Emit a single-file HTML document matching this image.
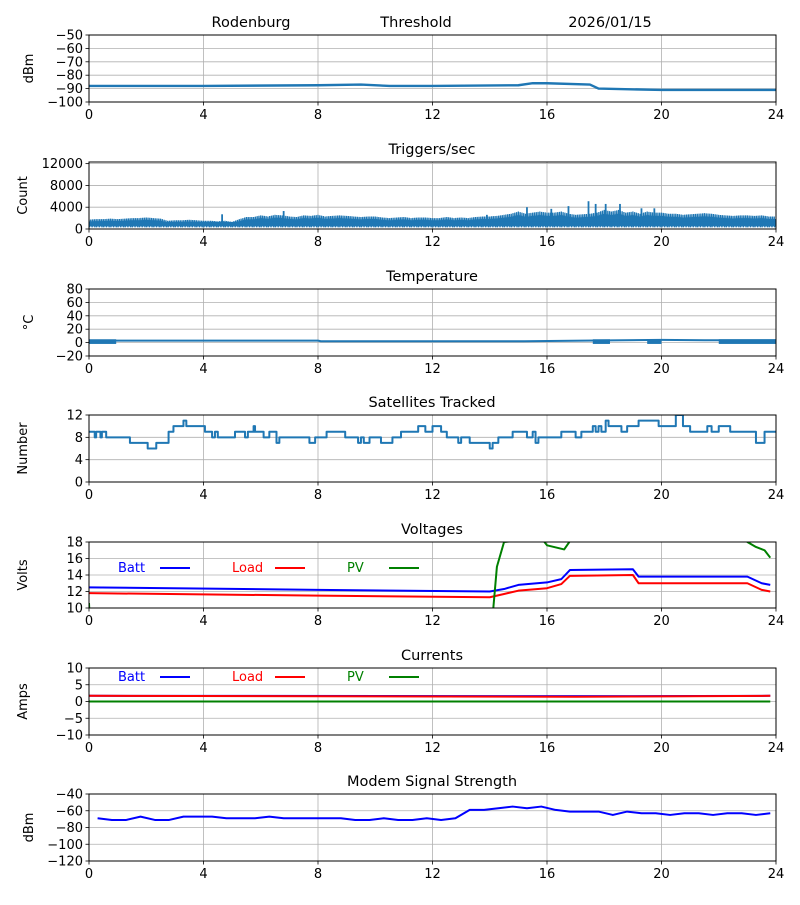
<!DOCTYPE html>
<html><head><meta charset="utf-8"><style>
body{margin:0;background:#fff;width:800px;height:900px;overflow:hidden}
svg{font-family:"DejaVu Sans","Liberation Sans",sans-serif}
</style></head><body>
<svg id="c" width="800" height="900" xmlns="http://www.w3.org/2000/svg"></svg>
<script>
const hourTicks=[0,4,8,12,16,20,24];
const rssiT=[0,4,8,9.5,10.5,12,15,15.5,16,17.5,17.8,20,24];
const rssiV=[-88,-88,-87.5,-87,-88,-88,-87.5,-86,-86,-87,-90,-91,-91];
const trigHigh=[1700,1800,1800,1900,1800,1900,2000,2000,2100,2000,1900,
1500,1600,1600,1700,1600,1500,1500,1400,
1500,1300,1800,2200,2200,2500,
2300,2600,2500,2300,2200,2500,2400,2600,
2300,2400,2500,2400,2300,2200,2300,2300,
2100,2000,2100,2200,2000,2100,2100,2000,
2000,2200,2000,2100,2000,2200,2300,2300,
2400,2600,2800,3200,2800,3000,3200,3000,
3000,3200,2800,2600,2700,2800,3000,3500,
3200,3500,3000,3200,2800,3200,3000,3000,
2800,2800,2600,2700,2800,2900,2800,2600,
2500,2400,2500,2500,2400,2500,2300,2300];
const trigLow=[500];
const trigSpikeT=[4.65,6.8,13.9,15.3,16.15,16.75,17.45,17.7,18.05,18.55,19.3,19.75];
const trigSpikeV=[2700,3300,2600,4000,3700,4200,5100,4600,4600,4600,3800,3800];
const tempT=[0.9,8,8.1,15.2,17.3,20,21.5,24];
const tempV=[3,3,2,2,3,4,3.5,3.5];
const tempNoiseStart=[0,17.6,19.5,22];
const tempNoiseEnd=[0.95,18.2,20,24];
const satT=[0,0.2,0.25,0.4,0.45,0.6,0.65,1.43,2.05,2.35,2.78,2.95,3.3,3.4,4.05,4.3,4.4,4.5,5.1,5.45,5.55,5.75,5.8,6.1,6.3,6.55,6.65,7.7,7.9,8.3,8.95,9.4,9.5,9.6,9.8,10.2,10.6,10.9,11.5,11.75,12,12.3,12.5,12.9,13.0,13.3,14.0,14.1,14.3,14.8,15.3,15.5,15.6,15.7,16.5,17.0,17.2,17.6,17.7,17.8,17.9,18.05,18.15,18.6,18.8,19.2,19.9,20.5,20.75,21.0,21.6,21.75,22.0,22.4,23.3,23.6,24];
const satV=[9,8,9,8,9,8,8,7,6,7,9,10,11,10,9,8,9,8,9,8,9,10,9,8,9,7,8,7,8,9,8,7,8,7,8,7,8,9,10,9,10,9,8,7,8,7,6,7,8,9,8,9,7,8,9,8,9,10,9,10,9,11,10,9,10,11,10,12,10,9,10,9,10,9,7,9,9];
const voltT=[0,8,14,14.5,15,16,16.5,16.8,19,19.2,23,23.5,23.8];
const battV=[12.5,12.2,12.0,12.3,12.8,13.1,13.5,14.6,14.7,13.8,13.8,13.0,12.8];
const loadV=[11.8,11.5,11.3,11.7,12.1,12.4,12.9,13.9,14.0,13.0,13.0,12.2,12.0];
const pvT=[0,0.02,14.1,14.25,14.5,15.8,16,16.6,16.8,17.2,22.8,23,23.3,23.6,23.8];
const pvV=[10.6,9,9,15,18,18.5,17.6,17.1,18.1,21,21,18,17.4,17.0,16.1];
const curT=[0,17,19,23.8];
const battA=[1.7,1.6,1.6,1.7];
const loadA=[1.7,1.4,1.5,1.7];
const pvA=[0,0,0,0];
const modemT=[0.3,0.8,1.3,1.8,2.3,2.8,3.3,3.8,4.3,4.8,5.3,5.8,6.3,6.8,7.3,7.8,8.3,8.8,9.3,9.8,10.3,10.8,11.3,11.8,12.3,12.8,13.3,13.8,14.3,14.8,15.3,15.8,16.3,16.8,17.3,17.8,18.3,18.8,19.3,19.8,20.3,20.8,21.3,21.8,22.3,22.8,23.3,23.8];
const modemV=[-69,-71,-71,-67,-71,-71,-67,-67,-67,-69,-69,-69,-67,-69,-69,-69,-69,-69,-71,-71,-69,-71,-71,-69,-71,-69,-59,-59,-57,-55,-57,-55,-59,-61,-61,-61,-65,-61,-63,-63,-65,-63,-63,-65,-63,-63,-65,-63];

const NS="http://www.w3.org/2000/svg";
const svg=document.getElementById('c');
const X0=89,X1=776;
function mk(tag,attrs,parent){const e=document.createElementNS(NS,tag);for(const k in attrs)e.setAttribute(k,attrs[k]);(parent||svg).appendChild(e);return e;}
function xs(h){return X0+(X1-X0)*h/24;}
const panels=[
 {name:'rssi',top:35,bot:102,min:-100,max:-50,ticks:[-100,-90,-80,-70,-60,-50],label:'dBm',title:null},
 {name:'triggers',top:162,bot:229,min:0,max:12300,ticks:[0,4000,8000,12000],label:'Count',title:'Triggers/sec'},
 {name:'temperature',top:289,bot:356,min:-20,max:80,ticks:[-20,0,20,40,60,80],label:'°C',title:'Temperature'},
 {name:'satellites',top:415,bot:482,min:0,max:12,ticks:[0,4,8,12],label:'Number',title:'Satellites Tracked'},
 {name:'voltages',top:542,bot:608,min:10,max:18,ticks:[10,12,14,16,18],label:'Volts',title:'Voltages'},
 {name:'currents',top:668,bot:735,min:-10,max:10,ticks:[-10,-5,0,5,10],label:'Amps',title:'Currents'},
 {name:'modem',top:794,bot:861,min:-120,max:-40,ticks:[-120,-100,-80,-60,-40],label:'dBm',title:'Modem Signal Strength'}];
function ys(p,v){return p.bot-(p.bot-p.top)*(v-p.min)/(p.max-p.min);}
function fmt(v){return v<0?'\u2212'+(-v):''+v;}
panels.forEach((p,i)=>{
 const g=mk('g',{});
 
 
 const cp=mk('clipPath',{id:'cp'+i},g);mk('rect',{x:X0,y:p.top,width:X1-X0,height:p.bot-p.top},cp);
 hourTicks.forEach(h=>{const l=mk('line',{x1:xs(h),x2:xs(h),y1:p.top,y2:p.bot,stroke:'#b0b0b0','stroke-width':0.8},g);
  
  mk('line',{x1:xs(h),x2:xs(h),y1:p.bot,y2:p.bot+3.5,stroke:'#000','stroke-width':0.8},g);
  const t=mk('text',{x:xs(h),y:p.bot+17,'font-size':13,'text-anchor':'middle'},g);t.textContent=h;
  });
 p.ticks.forEach(v=>{const y=ys(p,v);
  mk('line',{x1:X0,x2:X1,y1:y,y2:y,stroke:'#b0b0b0','stroke-width':0.8},g);
  mk('line',{x1:X0-3.5,x2:X0,y1:y,y2:y,stroke:'#000','stroke-width':0.8},g);
  const t=mk('text',{x:X0-6,y:y+4.5,'font-size':13,'text-anchor':'end'},g);t.textContent=fmt(v);
  });
 const yl=mk('text',{x:0,y:0,'font-size':13,'text-anchor':'middle',transform:`translate(${p.label==='dBm'||p.label==='°C'?33:27},${(p.top+p.bot)/2}) rotate(-90)`},g);
 yl.textContent=p.label;
 if(p.title){const t=mk('text',{x:432,y:p.top-8,'font-size':14.5,'text-anchor':'middle'},g);t.textContent=p.title;
  }
 p.g=mk('g',{'clip-path':`url(#cp${i})`},g);
 p.frame=g;
});
function frames(){panels.forEach(p=>mk('rect',{x:X0,y:p.top,width:X1-X0,height:p.bot-p.top,fill:'none',stroke:'#000','stroke-width':1},p.frame));}
function line(p,T,V,color,w,name,step){
 let d='';T.forEach((t,k)=>{const x=xs(t),y=ys(p,V[k]);
  if(k===0)d+=`M${x},${y}`;else if(step)d+=`H${x}V${y}`;else d+=`L${x},${y}`;});
 const e=mk('path',{d,fill:'none',stroke:color,'stroke-width':w,'stroke-linejoin':'round'},p.g);
 return e;}
const BL='#1f77b4';
[['Rodenburg',251,'station-name'],['Threshold',416,'threshold-label'],['2026/01/15',610,'date-label']].forEach(a=>{
 const t=mk('text',{x:a[1],y:27,'font-size':14.5,'text-anchor':'middle'});t.textContent=a[0];
 });
line(panels[0],rssiT,rssiV,BL,2.4,'rssi-line',false);
// triggers: dense zigzag between low and high envelopes
{const p=panels[1];let d='';
 for(let k=0;k<trigHigh.length-1;k++){
  const a=trigHigh[k],b=trigHigh[k+1];
  for(let s=0;s<8;s++){
   const t=(k+s/8)*0.25;const hv=a+(b-a)*s/8;
   const hi=s%2?hv*0.8:hv;const lo=trigLow[0]*(s%3?1:0.6);
   d+=(d?'L':'M')+xs(t)+','+ys(p,hi)+'L'+xs(t+0.0156)+','+ys(p,lo);
  }}
 const a=mk('path',{d,fill:'none',stroke:BL,'stroke-width':1.3},p.g);
 
 const base=mk('rect',{x:X0,y:ys(p,1300),width:X1-X0,height:ys(p,trigLow[0])-ys(p,1300),fill:BL},p.g);
 
 trigSpikeT.forEach((t,k)=>{const s=mk('line',{x1:xs(t),x2:xs(t),y1:ys(p,1000),y2:ys(p,trigSpikeV[k]),stroke:BL,'stroke-width':1.8},p.g);
  });}
{const p=panels[2];line(p,tempT,tempV,BL,2,'temperature-line',false);
 tempNoiseStart.forEach((s,k)=>{const r=mk('rect',{x:xs(s),y:ys(p,5),width:xs(tempNoiseEnd[k])-xs(s),height:ys(p,-2)-ys(p,5),fill:BL},p.g);
  });}
line(panels[3],satT,satV,BL,2,'satellites-line',true);
line(panels[4],voltT,battV,'#0000ff',2,'batt-voltage-line',false);
line(panels[4],voltT,loadV,'#ff0000',2,'load-voltage-line',false);
line(panels[4],pvT,pvV,'#008000',2,'pv-voltage-line',false);
line(panels[5],curT,battA,'#0000ff',2,'batt-current-line',false);
line(panels[5],curT,loadA,'#ff0000',2,'load-current-line',false);
line(panels[5],curT,pvA,'#008000',2,'pv-current-line',false);
line(panels[6],modemT,modemV,'#0000ff',2,'modem-line',false);
[572,681].forEach((y,j)=>{[['Batt',118,160,'#0000ff'],['Load',232,275,'#ff0000'],['PV',347,389,'#008000']].forEach(a=>{
 const t=mk('text',{x:a[1],y:y,'font-size':13,fill:a[3]});t.textContent=a[0];
 
 mk('line',{x1:a[2],x2:a[2]+30,y1:y-4,y2:y-4,stroke:a[3],'stroke-width':2});});});
frames();
</script>
</body></html>
